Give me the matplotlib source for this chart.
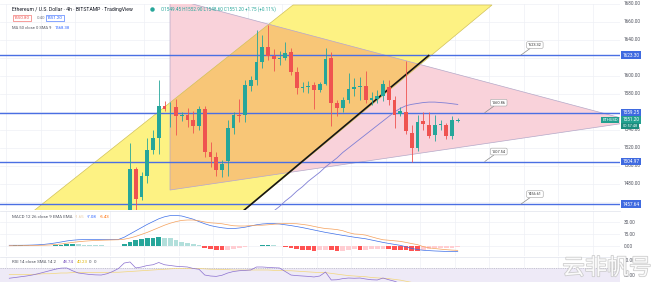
import matplotlib
matplotlib.use('Agg')
import matplotlib.pyplot as plt
from matplotlib.patches import Polygon, Rectangle
import matplotlib.transforms as mtrans
import matplotlib.patheffects as pe
import numpy as np

plt.rcParams['font.family'] = ['Roboto', 'DejaVu Sans']

W, H, DPI = 659, 282, 100

# ---------------- data ----------------
opens = [1445, 1497, 1465, 1489, 1518, 1531, 1567, 1565, 1565, 1556,
         1557, 1551, 1544, 1563, 1516, 1510, 1496, 1505, 1542, 1557,
         1557, 1589, 1596, 1616, 1632, 1622, 1619, 1620, 1627, 1604,
         1587, 1587.5, 1590, 1584, 1591, 1620, 1570, 1564, 1573, 1585,
         1588, 1589, 1573, 1574, 1578, 1588, 1573, 1558, 1560, 1537,
         1520, 1550.5, 1546, 1534, 1546, 1546, 1533, 1549.5]
highs = [1526, 1499, 1493, 1531, 1540, 1595, 1572, 1571, 1574, 1560,
         1564, 1561, 1567, 1567, 1527, 1516, 1507, 1551, 1560, 1574,
         1595, 1600, 1651, 1645, 1657, 1630, 1628, 1638, 1631, 1610,
         1593, 1594, 1593, 1593, 1631, 1627, 1573, 1577, 1603, 1598,
         1599, 1605, 1582, 1584, 1595, 1595, 1578, 1565, 1617, 1546,
         1557, 1560, 1560, 1557, 1551, 1548, 1555, 1552.9]
lows = [1440, 1448, 1462, 1481, 1513, 1513, 1561, 1543, 1534, 1550,
        1543, 1537, 1540, 1510, 1499, 1489, 1488, 1489, 1535, 1549,
        1549, 1583, 1590, 1609, 1618, 1605, 1612, 1618, 1601, 1580,
        1582, 1581, 1563, 1582, 1590, 1544, 1555, 1560, 1570, 1578,
        1573, 1570, 1568, 1570, 1572, 1568, 1542, 1555, 1535, 1504,
        1517, 1540, 1531, 1528, 1540, 1530, 1530, 1548.6]
closes = [1497, 1463, 1489, 1518, 1531, 1567, 1563, 1566, 1556, 1557,
          1551, 1544, 1563, 1516, 1510, 1496, 1502, 1542, 1557, 1555,
          1590, 1595, 1616, 1632, 1622, 1619, 1620, 1626, 1604, 1587,
          1588, 1589, 1584, 1591, 1619, 1570, 1564, 1573, 1586, 1588,
          1588.5, 1573, 1576, 1578, 1591, 1573, 1557, 1561, 1539, 1520,
          1549, 1546.7, 1533, 1545, 1546.5, 1533, 1551, 1551.2]

ma50_start = 25
ma50 = [1450, 1455, 1461, 1466, 1472, 1477, 1483, 1488, 1493, 1499, 1504,
        1509, 1515, 1520, 1525, 1530, 1535, 1540, 1545, 1550, 1555, 1560,
        1564, 1567, 1568.5, 1569.5, 1570.5, 1571, 1571, 1570.5, 1570,
        1569.2, 1568.4]

ind_start = -21
macd_line = [0.9, 0.9, 0.9, 1.0, 1.2, 1.5, 2.0, 2.8, 3.8, 5.0, 6.3, 7.2, 7.8,
             8.0, 8.0, 8.0, 8.0, 8.0, 8.0, 8.2,
             11, 15, 19, 23, 27, 30.5, 34, 36.5, 38, 38.2, 37.5,
             35.5, 33.5, 30.5, 27.8, 25.5, 24, 22.8, 22, 21.8, 22.5,
             23.5, 25, 26.5, 27.5, 28, 28, 27.5, 26.5, 25.5, 24.3,
             23, 21.5, 20, 18.5, 17, 15.8, 14.5, 13.3, 12.2, 11,
             10, 9, 7.5, 6, 4.5, 3.2, 2, 0.8, -1, -3,
             -4.5, -5.3, -5.8, -6.2, -6.5, -6.8, -7, -7.08]
macd_signal = [0.3, 0.35, 0.4, 0.5, 0.6, 0.8, 1.0, 1.3, 1.8, 2.5, 3.5, 4.5,
               5.3, 6.0, 6.5, 6.9, 7.2, 7.4, 7.6, 7.8,
               8.5, 10, 12, 14.5, 17, 20, 23, 26, 28.5, 30.5, 32,
               32.5, 32.5, 31.5, 30, 29, 28.5, 27.8, 26.5, 25.3, 25,
               25, 25.5, 26, 26, 26.5, 27.2, 27.8, 28, 28, 27.8,
               27, 26, 24.5, 23, 21.8, 21.3, 20.5, 19.1, 16.7, 15,
               14.6, 13.6, 11.5, 9.5, 7.8, 7.2, 6.5, 5.8, 4.5, 3,
               1.7, -0.8, -2.3, -3.2, -3.9, -4.6, -5.1, -5.43]
macd_hist = [0.6, 0.8, 0.8, 0.7, 0.5, 0.3, 0.2, 0.4, 0.8, 1.2, 2.2, 2.4, 2.3,
             1.5, 1.2, 1.0, 0.8, 0.6, 0.5, 0.4,
             2.5, 5.0, 7.0, 8.5, 10.0, 10.5, 11.0, 10.5, 9.5, 7.7, 5.5,
             4.0, 2.5, 1.0, -2.0, -3.5, -4.5, -5.0, -4.5, -3.5, -2.5,
             -1.5, -0.5, 0.5, 1.5, 1.5, 0.8, -0.3, -1.5, -2.5, -3.5,
             -4.5, -5.5, -6.0, -5.5, -4.8, -5.5, -6.0, -5.8, -4.5, -4.0,
             -4.6, -4.6, -4.0, -3.5, -3.3, -4.0, -4.5, -5.0, -5.5, -6.0,
             -6.2, -4.5, -3.5, -3.0, -2.6, -2.2, -1.9, -1.65]
rsi = [57, 58, 59, 60, 61.3, 63, 65, 67, 69, 70.5, 70.7, 67, 64, 63, 62, 61.5,
       61.3, 63, 66, 70,
       77.3, 78.7, 70.7, 72, 74, 75, 78, 75, 74, 73, 72.5,
       72, 70, 69, 61.3, 60, 59.5, 61, 64, 66, 67,
       67.5, 68, 72, 72, 71.5, 71, 70.7, 66, 61.3, 60.5,
       60, 59.5, 58.7, 60, 65.3, 54.7, 55, 56.5, 57.3, 57,
       57.3, 56, 55, 54.7, 57.3, 55, 53, 50, 46, 42,
       44, 48, 47, 45, 46, 46.5, 46, 48.74]
rsi_ma = [62, 62, 62, 62, 62, 62.5, 63, 63, 63.5, 64, 64, 64.5, 64.5, 64.5,
          64.5, 64.5, 64.5, 64.5, 65, 65,
          65.5, 66, 66.5, 67, 67.5, 68, 68.5, 69, 69.5, 70, 70,
          70, 70, 70, 69.5, 69, 69, 68.5, 68.5, 68, 68,
          68, 68, 68, 68, 68, 67.5, 67.5, 67, 67, 66.5,
          66, 65.5, 65, 64.5, 64.5, 63.5, 62.5, 61.5, 60.5, 60,
          59.5, 59, 58, 57.5, 57, 56.5, 55.5, 54.5, 53, 51.5,
          50, 48.5, 47, 45.5, 44, 42.5, 41, 40.23]

hlines = [1623.30, 1559.25, 1504.97, 1457.64]
hline_tags = ['1623.30', '1559.25', '1504.97', '1457.64']
callout_x = [68.0, 61.7, 61.7, 68.0]
callout_text = ['1623.32', '1560.86', '1507.54', '1456.61']
price_ticks = [1680, 1660, 1640, 1600, 1580, 1540, 1520, 1500, 1480]
macd_ticks = [30, 15, 0]
rsi_ticks = [80, 60]
last_price = 1551.20

# drawing anchors (bar index, price)
channel = [(28.35, 1678.9), (62.96, 1678.9), (9.5, 1395.6), (-27.5, 1395.6)]
triangle = [(6.96, 1686.7), (87.8, 1549.3), (6.96, 1473.3)]
trend_black = [(9.5, 1395.6), (52.05, 1623.3)]

# ---------------- layout ----------------
fig = plt.figure(figsize=(W / DPI, H / DPI), dpi=DPI)
fig.patch.set_facecolor('white')
XL = (-130 / 5.75, 490 / 5.75)
CHART_R = 620


def px_axes(x0, y0, x1, y1):
    a = fig.add_axes([x0 / W, 1 - y1 / H, (x1 - x0) / W, (y1 - y0) / H])
    a.set_axis_off()
    a.set_xlim(XL)
    return a


def fpx(x, y):
    return x / W, 1 - y / H


GRID = '#eef0f5'
LBL = '#50535e'
FS = 3.4

ax = px_axes(0, 4, CHART_R, 210)
ax.set_ylim(1451.1, 1680)
axm = px_axes(0, 211, CHART_R, 256)
axm.set_ylim(-12.5, 43.75)
axr = px_axes(0, 257, CHART_R, 282)
axr.set_ylim(52, 85.33)

for a in (ax, axm, axr):
    for v in np.arange(2.5 - 36, 95, 6):
        a.axvline(v, color=GRID, lw=0.5, zorder=0)
for p in range(1460, 1681, 20):
    ax.axhline(p, color=GRID, lw=0.5, zorder=0)
for p in macd_ticks:
    axm.axhline(p, color=GRID, lw=0.5, zorder=0)

# separators
for yy in (210.5, 256.5):
    fig.add_artist(plt.Line2D([0, CHART_R / W], [1 - yy / H] * 2, color='#e0e3eb', lw=0.5))

# shapes
ax.add_patch(Polygon(channel, closed=True, fc='#fdf283', ec='none', zorder=1))
tri = Polygon(triangle, closed=True, fc='#f9d2da', ec='none', zorder=1.5)
ax.add_patch(tri)
ov = Polygon(channel, closed=True, fc='#f8c677', ec='none', zorder=1.6)
ax.add_patch(ov)
ov.set_clip_path(tri)
ax.add_patch(Polygon(channel, closed=True, fill=False, ec='#d2c25a', lw=0.5, zorder=1.8))
ax.add_patch(Polygon(triangle, closed=True, fill=False, ec='#b4a8c8', lw=0.5, zorder=1.8))

for p in hlines:
    ax.axhline(p, color='#4a6fe3', lw=1.0, zorder=3)

ax.plot(np.arange(len(ma50)) + ma50_start, ma50, color='#7f7fd5', lw=0.6, zorder=4)
ax.plot([trend_black[0][0], trend_black[1][0]], [trend_black[0][1], trend_black[1][1]],
        color='#151515', lw=1.2, zorder=4.5, solid_capstyle='butt')

# candles
UP, DN = '#26a69a', '#ef5350'
for i, (o, h, l, c) in enumerate(zip(opens, highs, lows, closes)):
    col = UP if c >= o else DN
    ax.vlines(i, l, h, color=col, lw=0.6, zorder=5)
    ax.add_patch(Rectangle((i - 0.31, min(o, c)), 0.62, max(abs(c - o), 1.0),
                           fc=col, ec='none', zorder=6))

# callouts
for xi, p, t in zip(callout_x, hlines, callout_text):
    ax.annotate(t, xy=(xi, p), xytext=(7, 10), textcoords='offset pixels',
                fontsize=2.8, color='#333333', ha='left', va='center',
                bbox=dict(boxstyle='round,pad=0.35', fc='white', ec='#a0a0a0', lw=0.4),
                arrowprops=dict(arrowstyle='-', color='#8a8a8a', lw=0.5, shrinkA=0, shrinkB=0),
                zorder=7, annotation_clip=False)

# right price scale
tr = mtrans.blended_transform_factory(ax.transAxes, ax.transData)
for p in price_ticks:
    ax.text(1 + 4 / CHART_R, p, f'{p:.2f}', transform=tr, fontsize=FS, color=LBL,
            va='center', ha='left', clip_on=False)
for p, t in zip(hlines, hline_tags):
    ax.text(1 + 2.5 / CHART_R, p, t, transform=tr, fontsize=FS, color='white',
            va='center', ha='left', clip_on=False, zorder=10,
            bbox=dict(boxstyle='square,pad=0.25', fc='#3f6ae0', ec='none'))
ax.text(1 + 2.5 / CHART_R, last_price, f'{last_price:.2f}', transform=tr, fontsize=FS,
        color='white', va='center', ha='left', clip_on=False, zorder=11,
        bbox=dict(boxstyle='square,pad=0.25', fc='#22a08f', ec='none'))
ax.text(1 + 2.5 / CHART_R, last_price - 6.5, '00:57:48', transform=tr, fontsize=2.8,
        color='white', va='center', ha='left', clip_on=False, zorder=11,
        bbox=dict(boxstyle='square,pad=0.3', fc='#1c8c7e', ec='none'))
ax.text(1 - 2 / CHART_R, last_price, 'ETHUSD', transform=tr, fontsize=3.0,
        color='white', va='center', ha='right', clip_on=False, zorder=11,
        bbox=dict(boxstyle='square,pad=0.3', fc='#22a08f', ec='none'))

# MACD
xi = np.arange(len(macd_hist)) + ind_start
cols = []
for k, v in enumerate(macd_hist):
    prev = macd_hist[k - 1] if k > 0 else v
    if v >= 0:
        cols.append('#26a69a' if v >= prev else '#b2dfdb')
    else:
        cols.append('#ff5252' if v < prev else '#ffcdd2')
axm.bar(xi, macd_hist, width=0.85, color=cols, zorder=2)
axm.plot(xi, macd_line, color='#3d6fe8', lw=0.5, zorder=3)
axm.plot(xi, macd_signal, color='#f5a05a', lw=0.5, zorder=3)
trm = mtrans.blended_transform_factory(axm.transAxes, axm.transData)
for p in macd_ticks:
    axm.text(1 + 4 / CHART_R, p, f'{p:.2f}', transform=trm, fontsize=FS, color=LBL,
             va='center', ha='left', clip_on=False)

# RSI
axr.axhspan(30, 70, fc='#eeeaf7', ec='none', zorder=0.5)
axr.axhline(70, color='#a4a6b0', lw=0.4, ls=(0, (2, 2)), zorder=1)
axr.plot(xi, rsi_ma, color='#f3d77a', lw=0.5, zorder=2)
axr.plot(xi, rsi, color='#8a6fd0', lw=0.5, zorder=3)
trr = mtrans.blended_transform_factory(axr.transAxes, axr.transData)
for p in rsi_ticks:
    axr.text(1 + 4 / CHART_R, p, f'{p:.2f}', transform=trr, fontsize=FS, color=LBL,
             va='center', ha='left', clip_on=False)

# header texts
fig.text(*fpx(12, 9), 'Ethereum / U.S. Dollar · 4h · BITSTAMP · TradingView', fontsize=3.7,
         color='#131722', va='center', ha='left')
fig.add_artist(plt.Line2D([152 / W], [1 - 9 / H], marker='o', ms=2.2, color='#26a69a', lw=0))
fig.text(*fpx(161, 9), 'O1549.45 H1552.90 L1548.60 C1551.20 +1.75 (+0.11%)', fontsize=3.3,
         color='#26a69a', va='center', ha='left')
fig.text(*fpx(14, 18), '1550.80', fontsize=3.2, color='#ef5350', va='center', ha='left',
         bbox=dict(boxstyle='square,pad=0.3', fc='white', ec='#ef5350', lw=0.4))
fig.text(*fpx(37, 18), '0.40', fontsize=3.2, color='#787b86', va='center', ha='left')
fig.text(*fpx(47, 18), '1551.20', fontsize=3.2, color='#2962ff', va='center', ha='left',
         bbox=dict(boxstyle='square,pad=0.3', fc='white', ec='#2962ff', lw=0.4))
fig.text(*fpx(12, 28), 'MA 50 close 0 SMA 9', fontsize=3.0, color='#50535e', va='center', ha='left')
fig.text(*fpx(55, 28), '1568.38', fontsize=3.0, color='#2962ff', va='center', ha='left')

fig.text(*fpx(12, 217), 'MACD 12 26 close 9 EMA EMA', fontsize=3.2, color='#50535e',
         va='center', ha='left')
fig.text(*fpx(75, 217), '-1.65', fontsize=3.2, color='#e8c9a0', va='center', ha='left')
fig.text(*fpx(87, 217), '-7.08', fontsize=3.2, color='#2962ff', va='center', ha='left')
fig.text(*fpx(100, 217), '-5.43', fontsize=3.2, color='#ff6d00', va='center', ha='left')

fig.text(*fpx(12, 262), 'RSI 14 close SMA 14 2', fontsize=3.2, color='#50535e',
         va='center', ha='left')
fig.text(*fpx(63, 262), '48.74', fontsize=3.2, color='#7e57c2', va='center', ha='left')
fig.text(*fpx(77, 262), '40.23', fontsize=3.2, color='#e0b400', va='center', ha='left')
fig.text(*fpx(89, 262), '0', fontsize=3.2, color='#50535e', va='center', ha='left')
fig.text(*fpx(94, 262), '0', fontsize=3.2, color='#50535e', va='center', ha='left')

# watermark
fig.text(*fpx(607, 268), '云非帆号', fontsize=16, family=['Noto Sans CJK SC', 'DejaVu Sans'],
         color='white', ha='center', va='center', zorder=20, alpha=0.9,
         path_effects=[pe.withStroke(linewidth=1.2, foreground='#c9c9c9')])

fig.savefig('out.png', dpi=DPI, facecolor='white')
